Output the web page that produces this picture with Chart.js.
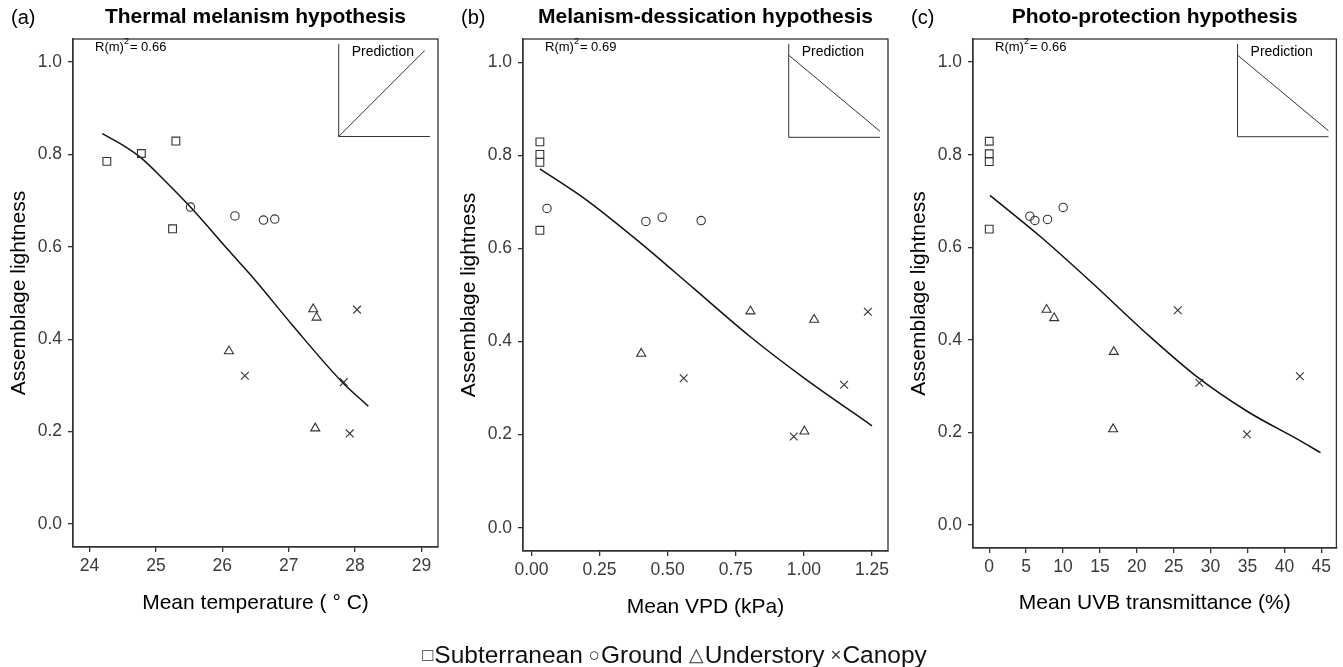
<!DOCTYPE html>
<html lang="en">
<head>
<meta charset="UTF-8">
<title>Assemblage lightness vs. climate</title>
<script src="https://cdn.jsdelivr.net/npm/chart.js"></script>
<style>
  body { margin: 0; background: #fff; width: 1343px; height: 667px; position: relative; overflow: hidden;
         font-family: "Liberation Sans", Arial, sans-serif; }
  canvas { position: absolute; top: 0; }
  #legend { position: absolute; top: 641px; left: 0; width: 1343px; display: flex; justify-content: center;
            align-items: center; font-size: 24.5px; color: #111; white-space: nowrap; }
  #legend .sym { font-size: 18.5px; color: #333; margin: 0 1px 0 6px; }
</style>
</head>
<body>
<canvas id="chartA" width="450" height="667" style="left:0px"></canvas>
<canvas id="chartB" width="450" height="667" style="left:450px"></canvas>
<canvas id="chartC" width="443" height="667" style="left:900px"></canvas>
<div id="legend">
  <span class="sym">□</span>Subterranean
  <span class="sym">○</span>Ground
  <span class="sym">△</span>Understory
  <span class="sym">×</span>Canopy
</div>

<script>
// assemblage lightness (same 16 assemblages in every panel)
const subLight    = [0.785, 0.802, 0.829, 0.639];
const groundLight = [0.686, 0.667, 0.658, 0.660];
const underLight  = [0.465, 0.447, 0.374, 0.207];
const canopyLight = [0.464, 0.321, 0.307, 0.196];

// (a) mean temperature
const tempSub    = [24.26, 24.78, 25.30, 25.25];
const tempGround = [25.52, 26.19, 26.62, 26.79];
const tempUnder  = [27.37, 27.42, 26.10, 27.40];
const tempCanopy = [28.03, 26.34, 27.83, 27.92];
const tempFitX = [24.19, 24.5, 24.78, 25.1, 25.52, 26.09, 26.47, 27.07, 27.80, 28.20];
const tempFitY = [0.845, 0.820, 0.792, 0.748, 0.686, 0.593, 0.532, 0.428, 0.308, 0.255];

// (b) mean VPD
const vpdSub    = [0.031, 0.031, 0.031, 0.031];
const vpdGround = [0.057, 0.480, 0.420, 0.623];
const vpdUnder  = [0.804, 1.038, 0.403, 1.002];
const vpdCanopy = [1.235, 0.559, 1.148, 0.963];
const vpdFitX = [0.031, 0.2, 0.4, 0.6, 0.8, 1.0, 1.25];
const vpdFitY = [0.771, 0.705, 0.612, 0.512, 0.412, 0.322, 0.219];

// (c) mean UVB transmittance
const uvbSub    = [0, 0, 0, 0];
const uvbGround = [10.02, 5.51, 6.19, 7.90];
const uvbUnder  = [7.77, 8.80, 16.88, 16.79];
const uvbCanopy = [25.55, 42.10, 28.48, 34.93];
const uvbFitX = [0.1, 7, 14, 21, 28, 35, 42, 44.9];
const uvbFitY = [0.712, 0.622, 0.522, 0.418, 0.322, 0.245, 0.183, 0.156];

// ticks
const yTicks = [0, 0.2, 0.4, 0.6, 0.8, 1.0];
const yTickLabels = ['0.0', '0.2', '0.4', '0.6', '0.8', '1.0'];
const tempTicks = [24, 25, 26, 27, 28, 29];
const vpdTicks = [0, 0.25, 0.5, 0.75, 1.0, 1.25];
const vpdTickLabels = ['0.00', '0.25', '0.50', '0.75', '1.00', '1.25'];
const uvbTicks = [0, 5, 10, 15, 20, 25, 30, 35, 40, 45];

const FONT = '"Liberation Sans", Arial, sans-serif';
const INK = '#333';

function pts(xs, ys) { return xs.map((x, i) => ({x: x, y: ys[i]})); }

// frame, panel letter, title, R2 note and the small prediction inset
const decor = {
  id: 'decor',
  afterDraw(chart, args, o) {
    const ctx = chart.ctx, a = chart.chartArea;
    const w = a.right - a.left, h = a.bottom - a.top;
    ctx.save();
    ctx.strokeStyle = INK;
    ctx.lineWidth = 1.3;
    ctx.strokeRect(a.left, a.top, w, h);

    ctx.fillStyle = '#000';
    ctx.textBaseline = 'middle';
    ctx.textAlign = 'left';
    ctx.font = '20px ' + FONT;
    ctx.fillText(o.letter, a.left - 62, 18);
    ctx.textAlign = 'center';
    ctx.font = 'bold 21px ' + FONT;
    ctx.fillText(o.title, (a.left + a.right) / 2, 17);

    // R(m)^2
    ctx.textAlign = 'left';
    ctx.font = '13px ' + FONT;
    let x = a.left + 22, y = a.top + 8;
    ctx.fillText('R(m)', x, y);
    x += ctx.measureText('R(m)').width;
    ctx.font = '9px ' + FONT;
    ctx.fillText('2', x, y - 5);
    x += ctx.measureText('2').width + 1;
    ctx.font = '13px ' + FONT;
    ctx.fillText('= ' + o.r2, x, y);

    // inset
    const il = a.left + 0.728 * w, ir = a.left + 0.978 * w;
    const it = a.top + 5, ib = a.top + 0.192 * h;
    const iw = ir - il, ih = ib - it;
    ctx.lineWidth = 1;
    ctx.beginPath();
    ctx.moveTo(il, it); ctx.lineTo(il, ib); ctx.lineTo(ir, ib);
    if (o.up) {
      ctx.moveTo(il, ib); ctx.lineTo(il + 0.943 * iw, ib - 0.93 * ih);
    } else {
      ctx.moveTo(il, ib - 0.88 * ih); ctx.lineTo(il + 1.0 * iw, ib - 0.065 * ih);
    }
    ctx.stroke();
    ctx.font = '14px ' + FONT;
    ctx.fillStyle = '#000';
    ctx.fillText('Prediction', il + 13, it + 8);
    ctx.restore();
  }
};

function makePanel(id, p) {
  const sym = {backgroundColor: 'rgba(0,0,0,0)', borderColor: INK, borderWidth: 1.1};
  return new Chart(document.getElementById(id), {
    type: 'scatter',
    data: {
      datasets: [
        Object.assign({label: 'Subterranean', data: pts(p.xs[0], subLight), pointStyle: 'rect', pointRadius: 5.5}, sym),
        Object.assign({label: 'Ground', data: pts(p.xs[1], groundLight), pointStyle: 'circle', pointRadius: 4.2}, sym),
        Object.assign({label: 'Understory', data: pts(p.xs[2], underLight), pointStyle: 'triangle', pointRadius: 5.2}, sym),
        Object.assign({label: 'Canopy', data: pts(p.xs[3], canopyLight), pointStyle: 'crossRot', pointRadius: 5.5}, sym),
        {type: 'line', label: 'fit', data: pts(p.fitX, p.fitY), borderColor: '#111', borderWidth: 1.5,
         pointRadius: 0, showLine: true, fill: false, cubicInterpolationMode: 'monotone'}
      ]
    },
    options: {
      responsive: false,
      animation: false,
      layout: {padding: {top: 39, right: p.padRight, bottom: 0, left: 0}},
      plugins: {
        legend: {display: false},
        tooltip: {enabled: false},
        decor: {letter: p.letter, title: p.title, r2: p.r2, up: p.up}
      },
      scales: {
        x: {
          type: 'linear', min: p.xMin, max: p.xMax,
          afterBuildTicks: s => { s.ticks = p.xTicks.map(v => ({value: v})); },
          afterFit: s => { s.height = p.xAxisH; },
          grid: {drawOnChartArea: false, drawTicks: true, tickLength: 5, color: INK, lineWidth: 1.3},
          border: {color: INK, width: 1.3},
          ticks: {callback: (v, i) => p.xLabels[i], font: {family: FONT, size: 17.5}, color: '#3a3a3a',
                  padding: 4, maxRotation: 0, autoSkip: false},
          title: {display: true, text: p.xTitle, font: {family: FONT, size: 21}, color: '#000',
                  padding: {top: 4, bottom: p.xTitlePad}}
        },
        y: {
          type: 'linear', min: -0.05, max: 1.05,
          afterBuildTicks: s => { s.ticks = yTicks.map(v => ({value: v})); },
          afterFit: s => { s.width = 73; },
          grid: {drawOnChartArea: false, drawTicks: true, tickLength: 5, color: INK, lineWidth: 1.3},
          border: {color: INK, width: 1.3},
          ticks: {callback: (v, i) => yTickLabels[i], font: {family: FONT, size: 17.5}, color: '#3a3a3a',
                  padding: 6, autoSkip: false},
          title: {display: true, text: 'Assemblage lightness', font: {family: FONT, size: 21}, color: '#000',
                  padding: {top: 7, bottom: 4}}
        }
      }
    },
    plugins: [decor]
  });
}

makePanel('chartA', {
  letter: '(a)', title: 'Thermal melanism hypothesis', r2: '0.66', up: true,
  xs: [tempSub, tempGround, tempUnder, tempCanopy], fitX: tempFitX, fitY: tempFitY,
  xMin: 23.75, xMax: 29.25, xTicks: tempTicks, xLabels: tempTicks.map(String),
  xTitle: 'Mean temperature ( \u00b0 C)', padRight: 12, xAxisH: 120, xTitlePad: 51
});
makePanel('chartB', {
  letter: '(b)', title: 'Melanism-dessication hypothesis', r2: '0.69', up: false,
  xs: [vpdSub, vpdGround, vpdUnder, vpdCanopy], fitX: vpdFitX, fitY: vpdFitY,
  xMin: -0.031, xMax: 1.309, xTicks: vpdTicks, xLabels: vpdTickLabels,
  xTitle: 'Mean VPD (kPa)', padRight: 12, xAxisH: 116, xTitlePad: 47
});
makePanel('chartC', {
  letter: '(c)', title: 'Photo-protection hypothesis', r2: '0.66', up: false,
  xs: [uvbSub, uvbGround, uvbUnder, uvbCanopy], fitX: uvbFitX, fitY: uvbFitY,
  xMin: -2.2, xMax: 47.05, xTicks: uvbTicks, xLabels: uvbTicks.map(String),
  xTitle: 'Mean UVB transmittance (%)', padRight: 6, xAxisH: 119, xTitlePad: 51
});
</script>
</body>
</html>
